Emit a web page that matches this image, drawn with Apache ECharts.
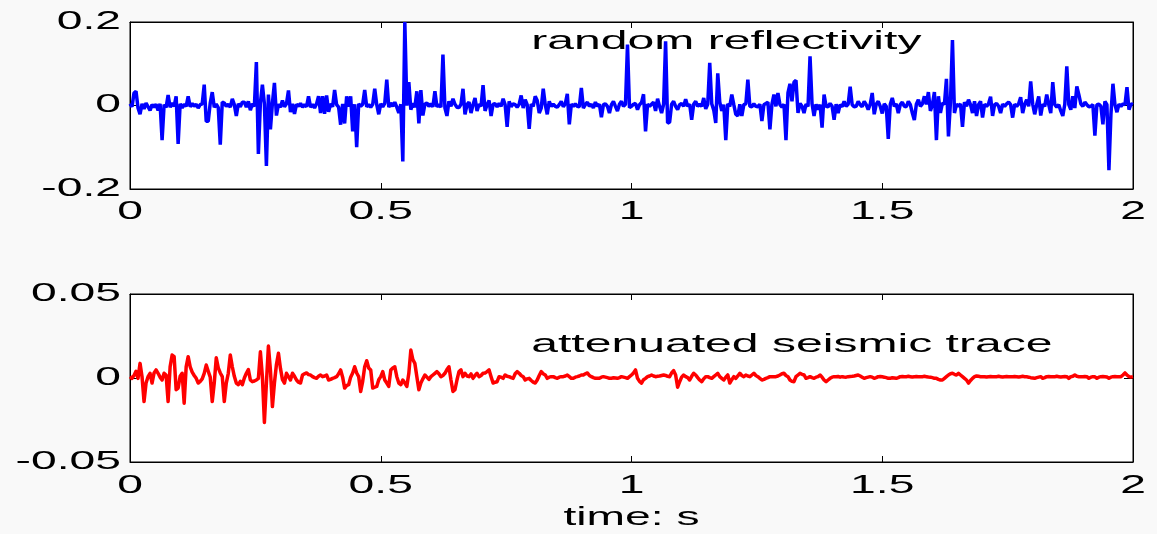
<!DOCTYPE html>
<html>
<head>
<meta charset="utf-8">
<script src="https://cdn.jsdelivr.net/npm/echarts@6/dist/echarts.min.js"></script>
<style>
  html, body { margin: 0; padding: 0; background: #f9f9f9; }
  #chart { width: 1157px; height: 534px; }
</style>
</head>
<body>
<div id="chart"></div>
<script>
// Sampling interval of both traces, in seconds
const dt = 0.004;

// Reflectivity series, one value per sample (0 .. 2 s)
const reflectivity = [
  0.004,-0.003,0.030,0.034,-0.006,-0.021,0.004,-0.008,0.006,-0.003,
  -0.012,0.002,-0.004,0.003,-0.012,0.004,-0.083,0.002,-0.005,0.025,
  -0.004,0.006,-0.002,0.022,-0.092,0.004,-0.006,0.003,-0.002,0.022,
  -0.003,0.005,-0.002,0.003,-0.006,0.002,0.004,0.050,-0.038,-0.038,
  0.006,0.032,-0.004,0.003,-0.005,-0.094,0.008,0.006,-0.002,0.003,
  -0.004,0.016,0.002,-0.025,0.004,-0.003,0.008,0.008,-0.004,0.010,
  -0.011,0.004,-0.002,0.104,-0.116,0.006,0.050,0.004,-0.145,0.026,
  -0.057,0.006,0.054,-0.024,0.003,-0.004,0.012,-0.003,0.004,0.036,
  -0.016,0.004,-0.020,0.003,-0.002,0.005,-0.004,0.002,-0.003,0.022,
  -0.004,0.003,-0.006,0.004,0.022,-0.018,0.022,-0.020,0.024,-0.015,
  0.004,-0.003,0.037,0.002,-0.004,-0.046,0.004,-0.043,0.022,-0.003,
  0.022,-0.062,0.003,-0.100,0.004,-0.002,0.003,0.037,-0.003,0.002,
  -0.004,0.003,0.040,0.002,-0.021,0.004,-0.003,0.005,0.062,-0.004,
  0.006,-0.002,0.008,-0.004,-0.018,0.003,-0.134,0.200,0.000,0.056,
  -0.010,0.005,-0.004,0.034,-0.043,0.037,-0.024,0.003,0.006,-0.002,
  0.004,-0.003,0.034,-0.003,0.002,-0.004,0.122,-0.006,-0.025,0.010,
  -0.002,0.016,0.003,-0.004,-0.005,0.003,0.040,-0.021,0.002,0.008,
  -0.018,0.002,0.018,-0.013,0.003,-0.002,0.049,-0.013,0.002,0.012,
  -0.025,0.003,0.004,-0.003,0.005,-0.002,0.016,0.002,-0.051,0.010,
  -0.003,0.004,0.002,-0.004,0.003,0.024,-0.006,0.014,0.002,-0.056,
  0.003,-0.002,0.022,0.012,-0.018,-0.006,0.040,0.002,-0.021,0.010,
  -0.002,0.003,-0.002,-0.004,0.002,0.010,-0.003,0.004,0.028,-0.045,
  0.003,-0.002,0.004,-0.002,-0.003,0.042,-0.006,0.002,0.008,-0.002,
  0.003,-0.006,0.008,-0.002,0.003,-0.028,0.002,0.004,-0.002,-0.018,
  0.002,0.010,-0.002,-0.013,0.003,0.010,-0.002,0.003,0.146,-0.005,
  -0.002,0.003,0.005,-0.010,0.002,0.007,0.027,-0.062,0.003,-0.002,
  0.003,0.008,-0.013,0.016,-0.002,-0.018,0.003,0.154,-0.042,-0.040,
  0.003,0.010,-0.002,-0.010,0.002,0.005,-0.002,0.015,-0.002,0.003,
  -0.034,0.003,0.010,-0.002,0.003,-0.002,0.018,-0.008,0.003,0.102,
  0.004,-0.011,-0.042,0.077,0.008,-0.013,0.002,-0.083,0.004,-0.002,
  0.026,0.002,-0.021,-0.025,0.003,-0.025,0.002,0.004,0.062,-0.002,
  -0.003,0.004,-0.002,-0.003,0.003,-0.037,0.002,0.005,0.008,-0.057,
  0.003,0.026,-0.002,0.030,0.002,-0.004,0.003,-0.083,0.030,0.052,
  0.010,0.056,0.060,-0.018,0.005,-0.002,-0.018,0.003,-0.002,0.118,
  0.004,-0.025,0.003,-0.010,0.002,-0.053,0.026,-0.002,-0.003,0.005,
  -0.002,-0.034,0.003,-0.018,0.002,-0.003,0.010,-0.002,0.003,0.045,
  0.002,-0.003,-0.002,0.010,0.002,-0.003,0.010,0.002,-0.010,0.003,
  0.030,-0.021,0.003,0.010,-0.002,-0.019,0.004,-0.002,-0.080,0.003,
  0.018,-0.002,0.004,-0.018,0.002,0.008,-0.002,-0.003,0.010,0.002,
  -0.018,-0.035,0.003,0.014,-0.002,0.004,0.022,0.003,0.032,-0.013,
  0.002,0.032,-0.083,0.022,-0.018,0.006,0.003,0.064,-0.074,0.008,
  0.157,-0.018,0.003,-0.002,0.004,-0.051,0.008,-0.002,0.014,0.002,
  -0.018,0.010,-0.025,0.002,0.010,-0.029,0.003,-0.002,0.004,0.021,
  -0.025,0.002,0.005,-0.002,-0.018,0.003,-0.002,0.004,0.008,0.002,
  -0.029,0.003,-0.002,0.004,0.020,-0.018,0.003,0.014,-0.002,0.058,
  0.003,-0.021,0.002,0.022,-0.024,0.003,-0.002,0.026,0.002,-0.018,
  0.056,0.002,-0.004,0.002,-0.013,-0.025,0.003,0.094,0.002,-0.010,
  0.022,-0.006,0.046,0.026,0.004,-0.002,0.008,0.002,-0.003,-0.002,
  0.002,-0.072,0.002,0.003,-0.002,-0.045,0.010,0.002,-0.155,-0.021,
  0.052,0.002,-0.016,0.003,-0.002,0.004,0.002,0.044,-0.010,0.004,
  0.002
];

// Attenuated seismic trace, same sampling
const trace = [
  0.0008,-0.0002,0.0015,0.0040,-0.0002,0.0087,0.0008,-0.0140,-0.0030,0.0008,
  0.0028,-0.0030,0.0030,0.0048,0.0028,0.0005,-0.0012,0.0028,0.0018,-0.0140,
  0.0067,0.0137,0.0127,-0.0070,-0.0060,0.0010,0.0028,-0.0150,0.0067,0.0127,
  0.0067,0.0035,0.0015,-0.0002,-0.0030,-0.0020,-0.0005,0.0028,0.0077,0.0040,
  0.0005,-0.0140,-0.0030,0.0120,0.0060,0.0030,0.0008,-0.0140,-0.0030,0.0028,
  0.0137,0.0067,0.0010,-0.0030,-0.0040,-0.0020,-0.0040,0.0000,0.0028,0.0050,
  -0.0012,-0.0022,-0.0018,-0.0012,-0.0002,0.0156,0.0008,-0.0265,-0.0030,0.0190,
  0.0048,-0.0170,-0.0030,0.0080,0.0147,0.0057,-0.0010,-0.0030,0.0028,0.0008,
  -0.0012,0.0028,0.0010,-0.0012,-0.0025,-0.0030,0.0018,0.0025,0.0030,0.0020,
  0.0018,0.0008,0.0002,-0.0002,0.0010,0.0018,0.0008,0.0012,0.0018,-0.0012,
  -0.0008,-0.0002,0.0002,0.0008,0.0025,0.0048,0.0005,-0.0060,-0.0045,-0.0040,
  0.0005,0.0030,0.0067,0.0030,0.0008,-0.0080,-0.0020,0.0067,0.0103,0.0060,
  0.0048,-0.0060,-0.0055,-0.0050,-0.0010,0.0008,0.0038,-0.0012,-0.0030,-0.0050,
  0.0048,0.0060,0.0067,0.0008,-0.0030,-0.0040,-0.0012,-0.0030,-0.0050,0.0028,
  0.0166,0.0110,0.0087,0.0008,-0.0070,-0.0030,-0.0005,0.0018,0.0005,-0.0008,
  0.0008,0.0018,0.0028,0.0038,0.0025,0.0008,0.0015,0.0028,0.0050,0.0067,
  -0.0012,-0.0080,-0.0070,-0.0012,0.0038,0.0048,0.0008,0.0028,0.0012,0.0008,
  0.0024,-0.0002,0.0015,0.0028,0.0008,0.0015,0.0028,0.0030,0.0038,0.0048,
  0.0008,-0.0030,-0.0025,-0.0022,0.0008,0.0005,-0.0002,0.0018,0.0010,0.0008,
  0.0002,-0.0002,0.0025,0.0038,0.0028,0.0015,0.0008,-0.0012,-0.0005,-0.0002,
  -0.0015,-0.0025,-0.0030,-0.0012,0.0015,0.0038,0.0025,0.0018,-0.0002,0.0005,
  0.0008,0.0008,0.0002,-0.0002,0.0005,0.0008,0.0008,0.0012,0.0018,0.0008,
  -0.0002,-0.0002,0.0005,0.0008,0.0012,0.0018,0.0018,0.0025,0.0030,0.0015,
  0.0008,0.0002,-0.0002,-0.0002,-0.0002,0.0005,0.0008,0.0005,0.0002,-0.0002,
  -0.0002,0.0002,0.0000,-0.0002,0.0002,0.0008,0.0005,0.0002,-0.0002,0.0008,
  0.0018,0.0030,0.0048,-0.0002,-0.0020,-0.0030,-0.0010,-0.0002,0.0008,0.0012,
  0.0018,0.0012,0.0008,0.0010,0.0012,0.0015,0.0018,0.0015,0.0010,0.0008,
  0.0030,0.0044,0.0018,-0.0055,-0.0022,0.0005,0.0018,0.0008,0.0002,-0.0012,
  0.0010,0.0028,0.0018,0.0002,-0.0012,-0.0022,-0.0005,0.0008,0.0008,0.0002,
  -0.0002,0.0008,0.0018,0.0028,0.0008,-0.0002,-0.0012,0.0005,0.0018,-0.0030,
  -0.0010,0.0008,-0.0002,0.0012,0.0028,0.0015,0.0008,0.0018,0.0012,0.0008,
  0.0018,0.0028,0.0015,0.0008,-0.0002,-0.0012,-0.0008,-0.0002,0.0002,0.0008,
  0.0008,0.0008,0.0008,0.0012,0.0018,0.0025,0.0028,0.0015,0.0008,-0.0012,
  -0.0020,-0.0022,0.0008,0.0018,0.0028,0.0022,0.0018,-0.0002,0.0002,0.0008,
  0.0002,-0.0002,0.0005,0.0008,0.0018,0.0005,-0.0012,-0.0022,-0.0012,-0.0002,
  0.0005,0.0008,0.0007,0.0009,0.0005,0.0008,0.0006,0.0005,0.0008,0.0009,
  0.0010,0.0012,0.0015,0.0018,0.0012,0.0005,-0.0002,0.0002,0.0005,0.0008,
  0.0005,-0.0002,0.0002,0.0008,0.0009,0.0007,0.0005,0.0002,-0.0002,-0.0002,
  0.0002,0.0000,-0.0002,0.0002,0.0008,0.0009,0.0007,0.0008,0.0010,0.0008,
  0.0006,0.0008,0.0009,0.0008,0.0007,0.0008,0.0010,0.0008,0.0006,0.0005,
  0.0002,-0.0002,-0.0002,-0.0008,-0.0012,-0.0012,-0.0002,0.0008,0.0018,0.0025,
  0.0028,0.0022,0.0018,0.0028,0.0018,0.0008,-0.0002,-0.0012,-0.0030,-0.0015,
  -0.0002,0.0008,0.0012,0.0010,0.0008,0.0008,0.0008,0.0006,0.0008,0.0009,
  0.0008,0.0007,0.0008,0.0010,0.0008,0.0006,0.0008,0.0009,0.0008,0.0007,
  0.0008,0.0009,0.0008,0.0006,0.0008,0.0010,0.0008,0.0007,0.0005,0.0002,
  0.0000,-0.0002,0.0002,0.0005,0.0008,-0.0002,0.0002,0.0008,0.0009,0.0008,
  0.0007,0.0008,0.0010,0.0008,0.0006,0.0008,0.0009,0.0008,-0.0002,0.0008,
  0.0010,0.0018,0.0010,0.0008,0.0007,0.0008,0.0009,0.0008,-0.0002,0.0005,
  0.0008,0.0007,-0.0002,0.0005,0.0008,0.0009,0.0008,0.0006,-0.0002,0.0005,
  0.0008,0.0009,0.0008,0.0007,0.0008,0.0018,0.0030,0.0018,0.0008,0.0005,
  0.0008
];

// Tick values and their labels
const xTicks = [0, 0.5, 1, 1.5, 2];
const xTickLabels = ['0', '0.5', '1', '1.5', '2'];
const yTicksTop = [-0.2, 0, 0.2];
const yTickLabelsTop = ['-0.2', '0', '0.2'];
const yTicksBottom = [-0.05, 0, 0.05];
const yTickLabelsBottom = ['-0.05', '0', '0.05'];

// Annotations
const titleTop = 'random reflectivity';
const titleBottom = 'attenuated seismic trace';
const xAxisName = 'time: s';

const FONT = '"Liberation Sans", Arial, Helvetica, sans-serif';
const STRETCH = 1.85;   // wide lettering of the figure text

function toPairs(values) {
  return values.map((v, i) => [i * dt, v]);
}

function xAxisDef(gridIndex, position) {
  return {
    type: 'value', gridIndex, position, min: 0, max: 2, interval: 0.5,
    axisLine: { show: true, onZero: false, lineStyle: { color: '#000', width: 1 } },
    axisTick: { show: true, inside: true, length: 6, lineStyle: { color: '#000', width: 1 } },
    axisLabel: { show: false },
    splitLine: { show: false }
  };
}

function yAxisDef(gridIndex, position, min, max, interval) {
  return {
    type: 'value', gridIndex, position, min, max, interval,
    axisLine: { show: true, onZero: false, lineStyle: { color: '#000', width: 1 } },
    axisTick: { show: true, inside: true, length: 9, lineStyle: { color: '#000', width: 1 } },
    axisLabel: { show: false },
    splitLine: { show: false }
  };
}

const chart = echarts.init(document.getElementById('chart'), null, { renderer: 'canvas' });

chart.setOption({
  animation: false,
  backgroundColor: '#f9f9f9',
  grid: [
    { left: 130, top: 22, width: 1003, height: 167, show: true, backgroundColor: '#ffffff', borderColor: '#000', borderWidth: 1 },
    { left: 130, top: 294, width: 1003, height: 168, show: true, backgroundColor: '#ffffff', borderColor: '#000', borderWidth: 1 }
  ],
  xAxis: [
    xAxisDef(0, 'bottom'), xAxisDef(0, 'top'),
    xAxisDef(1, 'bottom'), xAxisDef(1, 'top')
  ],
  yAxis: [
    yAxisDef(0, 'left', -0.2, 0.2, 0.2), yAxisDef(0, 'right', -0.2, 0.2, 0.2),
    yAxisDef(1, 'left', -0.05, 0.05, 0.05), yAxisDef(1, 'right', -0.05, 0.05, 0.05)
  ],
  series: [
    {
      name: 'reflectivity', type: 'line', xAxisIndex: 0, yAxisIndex: 0,
      data: toPairs(reflectivity), showSymbol: false, sampling: null, clip: true, z: 3,
      lineStyle: { color: '#0000ff', width: 3.5, join: 'bevel' }
    },
    {
      name: 'trace', type: 'line', xAxisIndex: 2, yAxisIndex: 2,
      data: toPairs(trace), showSymbol: false, sampling: null, clip: true, z: 3,
      lineStyle: { color: '#ff0000', width: 3.5, join: 'round' }
    }
  ]
});

// Text is laid out from the axes' own pixel mapping
function textEl(x, y, text, align, size, z) {
  return {
    type: 'text', x, y, scaleX: STRETCH, silent: true, z: z,
    style: {
      text, x: 0, y: 0, font: size + 'px ' + FONT, fill: '#000',
      textAlign: align, align: align,
      textVerticalAlign: 'middle', verticalAlign: 'middle'
    }
  };
}

const labels = [];
const panels = [
  { series: 0, yTicks: yTicksTop, yLabels: yTickLabelsTop, xOffset: 23 },
  { series: 1, yTicks: yTicksBottom, yLabels: yTickLabelsBottom, xOffset: 24 }
];

panels.forEach(p => {
  const yMin = p.yTicks[0];
  xTicks.forEach((v, k) => {
    const pt = chart.convertToPixel({ seriesIndex: p.series }, [v, yMin]);
    labels.push(textEl(pt[0], pt[1] + p.xOffset, xTickLabels[k], 'center', 25, 100));
  });
  p.yTicks.forEach((v, k) => {
    const pt = chart.convertToPixel({ seriesIndex: p.series }, [0, v]);
    labels.push(textEl(pt[0] - 9, pt[1], p.yLabels[k], 'right', 25, 100));
  });
});

const t1 = chart.convertToPixel({ seriesIndex: 0 }, [0.8, 0.152]);
labels.push(textEl(t1[0], t1[1], titleTop, 'left', 26, 1));
const t2 = chart.convertToPixel({ seriesIndex: 1 }, [0.8, 0.0196]);
labels.push(textEl(t2[0], t2[1], titleBottom, 'left', 26, 1));
const xn = chart.convertToPixel({ seriesIndex: 1 }, [1, -0.05]);
labels.push(textEl(xn[0], xn[1] + 56, xAxisName, 'center', 25, 100));

chart.setOption({ graphic: labels });
</script>
</body>
</html>
